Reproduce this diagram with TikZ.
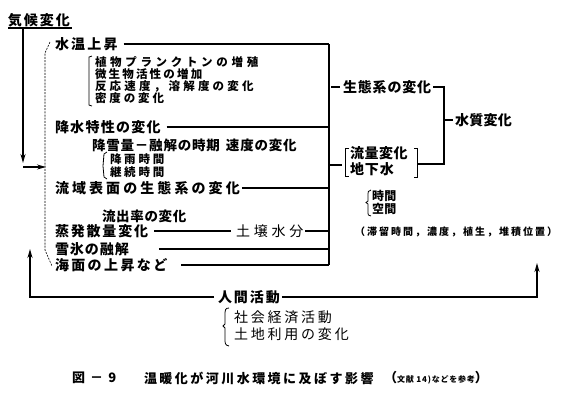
\documentclass[tikz,border=0pt]{standalone}
\usepackage{fontspec}
\newfontfamily\jp{Noto Sans CJK JP}
\usetikzlibrary{arrows.meta}
\newcommand\jf[3]{\jp#3\fontsize{#1}{#1}\selectfont\addfontfeature{LetterSpace=#2}}
\begin{document}
\begin{tikzpicture}[x=1pt,y=-1pt,
  lbl/.style={anchor=west,inner sep=0pt,outer sep=0pt},
  bt/.style={lbl,font=\jf{14}{#1}{\bfseries}},
  st/.style={lbl,font=\jf{13.5}{#1}{\bfseries}},
  sm/.style={lbl,font=\jf{11.5}{#1}{\bfseries}},
  rt/.style={lbl,font=\jf{14}{#1}{\mdseries}},
  ln/.style={line width=1.1pt},
  brk/.style={line width=0.8pt},
  arr/.style={-{Stealth[length=9pt,width=5pt]}}]
\useasboundingbox[fill=white] (0,0) rectangle (570,400);
% left column
\node[bt=14] (kikou) at (8,20) {気候変化};
\draw[line width=1.2pt] (8,28) -- (72,28);
\coordinate (top) at (23,28);
\draw[line width=2pt,arr] (top) -- (23,163);
\coordinate (dl) at (46,167);
\draw[line width=1.2pt,arr] (23,167) -- (dl);
\draw[line width=0.6pt,dash pattern=on 2pt off 1.2pt] (50,42) -- (45,53) -- (45,250) -- (52,266);

\node[bt=16] (suion) at (55,44) {水温上昇};
\node[sm=32] (s1) at (95,62) {植物プランクトンの増殖};
\node[sm=19] (s2) at (95,74) {微生物活性の増加};
\node[sm=28] (s3) at (95,86) {反応速度，溶解度の変化};
\node[sm=25] (s4) at (95,98) {密度の変化};
\draw[brk] (92,56) -- (89,57) -- (89,105) -- (92,106);

\node[bt=9] (kousui) at (55,127) {降水特性の変化};
\node[st=6] (kousetsu) at (92,145) {降雪量－融解の時期\hspace{6pt}速度の変化};
\node[sm=24] (kouu) at (110,159) {降雨時間};
\node[sm=24] (keizoku) at (110,172) {継続時間};
\draw[brk] (107,152) -- (104,154) -- (103,166) -- (104,177) -- (107,179);
\node[bt=22] (ryuiki) at (55,188) {流域表面の生態系の変化};
\node[st=5] (ryushutsu) at (102,216) {流出率の変化};
\node[bt=13] (jouhatsu) at (55,231) {蒸発散量変化};
\node[rt=27] (dojou) at (236,231) {土壌水分};
\node[bt=7] (setsuhyou) at (55,249) {雪氷の融解};
\node[bt=17] (kaimen) at (55,265) {海面の上昇など};

% collector
\coordinate (col) at (329,0);
\draw[ln] ([xshift=6pt]suion.east) -- (suion.east -| col);
\draw[ln] ([xshift=6pt]kousui.east) -- (kousui.east -| col);
\draw[ln] ([xshift=2pt]ryuiki.east) -- (ryuiki.east -| col);
\draw[ln] ([xshift=6pt]jouhatsu.east) -- ([xshift=-5pt]dojou.west);
\draw[ln] ([xshift=2pt]dojou.east) -- (dojou.east -| col);
\draw[ln] ([xshift=30pt]setsuhyou.east) -- (setsuhyou.east -| col);
\draw[ln] ([xshift=14pt]kaimen.east) -- (kaimen.east -| col);
\draw[ln] (suion.east -| col) -- (kaimen.east -| col);

% right side
\node[bt=6] (seitai) at (343,87) {生態系の変化};
\node[bt=2] (suishitsu) at (455,120) {水質変化};
\node[bt=4] (ryuryo) at (350,153) {流量変化};
\node[bt=7] (chika) at (350,169) {地下水};
\node[lbl,font=\jf{12}{4}{\bfseries}] (jikan) at (372,196) {時間};
\node[lbl,font=\jf{12}{4}{\bfseries}] (kukan) at (372,209) {空間};
\node[lbl,font=\jf{10}{20}{\bfseries}] (note) at (355,232) {（滞留時間，濃度，植生，堆積位置）};

\draw[ln] ([xshift=2pt]seitai.west -| col) -- ([xshift=-3pt]seitai.west);
\coordinate (rj) at (444,164);
\coordinate (rbm) at (417,164);
\coordinate (lbm) at (345,165);
\draw[ln] ([xshift=2pt]seitai.east) -| (rj) -- (rbm);
\draw[ln] (rj |- suishitsu.west) -- ([xshift=-2pt]suishitsu.west);
\draw[ln] (lbm -| col) -- ([xshift=-3pt]lbm);
\draw[brk] (349,148) -- (345,148) -- (345,176) -- (349,176);
\draw[brk] (414,148) -- (417,148) -- (417,177) -- (414,177);
\draw[brk] (371,190) .. controls (368,190) and (368,192) .. (368,196) -- (368,201) -- (366,202.5) -- (368,204) -- (368,211) .. controls (368,215) and (368,216) .. (371,216);

% bottom
\node[bt=14] (ningen) at (218,297) {人間活動};
\node[rt=20] (shakai) at (234,317) {社会経済活動};
\node[rt=20] (tochi) at (234,334) {土地利用の変化};
\draw[brk] (229,308) .. controls (225,308) and (225,310) .. (225,316) -- (225,324) -- (223,326) -- (225,328) -- (225,338) .. controls (225,344) and (225,345) .. (229,346);
\coordinate (la) at (30,249);
\coordinate (ra) at (537,263);
\draw[line width=1.5pt,arr] ([xshift=-4pt]ningen.west) -| (la);
\draw[line width=1.5pt,arr] ([xshift=2pt]ningen.east) -| (ra);

% caption
\node[lbl,font=\jf{13}{40}{\bfseries}] (fig) at (72,378) {図－9};
\node[lbl,font=\jf{13}{19}{\bfseries}] (cap) at (144,378) {温暖化が河川水環境に及ぼす影響};
\node[lbl,font=\jf{13}{0}{\bfseries}] (capref) at (384,378) {（{\fontsize{8}{8}\selectfont\addfontfeature{LetterSpace=10}文献 14)などを参考}）};
\end{tikzpicture}
\end{document}
